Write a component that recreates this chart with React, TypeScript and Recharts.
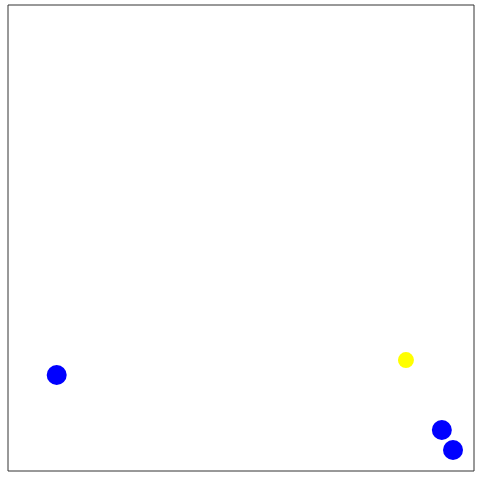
import React from 'react';
import { ScatterChart, Scatter, XAxis, YAxis, ReferenceArea } from 'recharts';

const bluePoints = [
  { x: 10.45, y: 20.6 },
  { x: 93.1, y: 8.8 },
  { x: 95.5, y: 4.5 },
];

const yellowPoints = [{ x: 85.4, y: 23.8 }];

const dot = (r: number, color: string) => (props: any) => (
  <circle cx={props.cx} cy={props.cy} r={r} fill={color} />
);

export default function App() {
  return (
    <div style={{ position: 'absolute', left: 0, top: 0, width: 480, height: 480, background: '#fff' }}>
      <ScatterChart width={480} height={480} margin={{ top: 5, right: 6, bottom: 9, left: 8 }}>
        <XAxis type="number" dataKey="x" domain={[0, 100]} hide />
        <YAxis type="number" dataKey="y" domain={[0, 100]} hide />
        <ReferenceArea x1={0} x2={100} y1={0} y2={100} fill="none" stroke="#333" strokeWidth={1} fillOpacity={0} />
        <Scatter data={bluePoints} shape={dot(10, '#0000ff')} isAnimationActive={false} />
        <Scatter data={yellowPoints} shape={dot(8, '#ffff00')} isAnimationActive={false} />
      </ScatterChart>
    </div>
  );
}
